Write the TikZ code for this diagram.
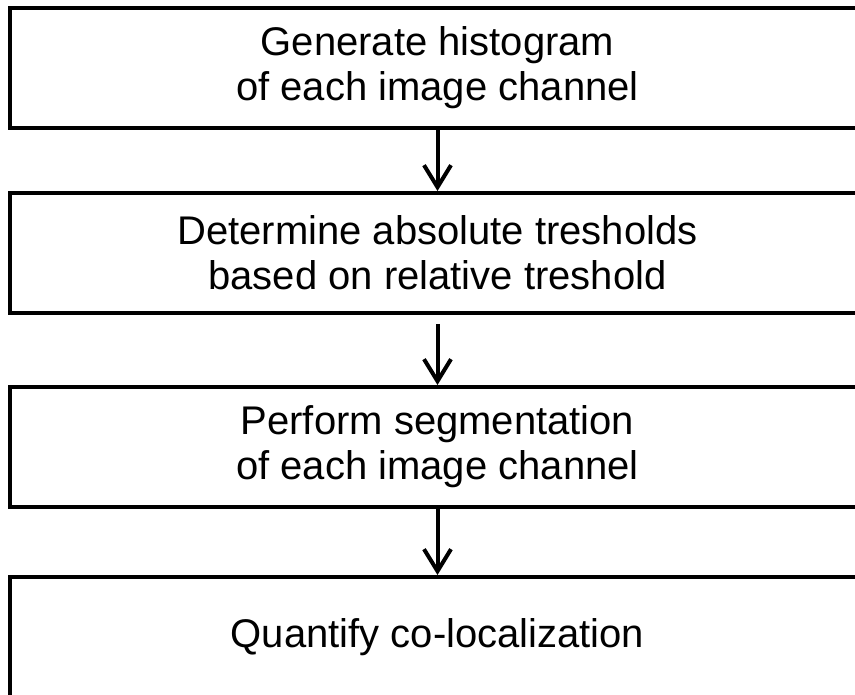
\documentclass[tikz,border=0pt]{standalone}
\usepackage{fontspec}
\setmainfont{Liberation Sans}
\usetikzlibrary{positioning}
\usetikzlibrary{arrows.meta}

\begin{document}
\begin{tikzpicture}[x=1pt,y=1pt,
		stepbox/.style={draw, line width=4pt, minimum width=855pt, minimum height=120pt,
			inner sep=0pt, align=center, font=\fontsize{40}{45}\selectfont},
		flow/.style={line width=4pt, -{Straight Barb[length=22pt,width=27pt]}}]
		\useasboundingbox (0,0) rectangle (855,-695);
		\clip (0,0) rectangle (855,-695);
		\node (hist) [stepbox] at (437.5,-68) {Generate histogram\\of each image channel};
		\node (abs) [stepbox, below=61pt of hist] {Determine absolute tresholds\\based on relative treshold};
		\node (seg) [stepbox, below=70pt of abs] {Perform segmentation\\of each image channel};
		\node (quant) [stepbox, below=66pt of seg] {Quantify co-localization};
		\draw [flow] (hist) -- (abs);
		\draw [flow, shorten <=9pt] (abs) -- (seg);
		\draw [flow] (seg) -- (quant);
		\end{tikzpicture}
\end{document}
